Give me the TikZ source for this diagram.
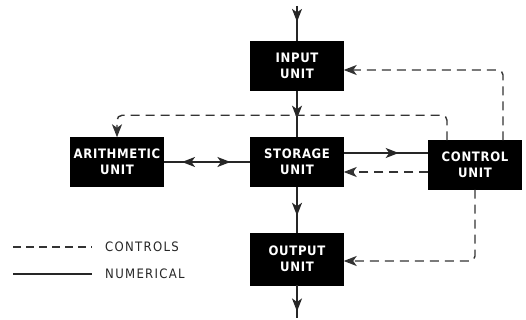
\documentclass[tikz,border=0pt]{standalone}
\usepackage{fontspec}
\newfontfamily\boxfont{DejaVu Sans}[FakeStretch=0.9, LetterSpace=5]
\newfontfamily\keyfont{DejaVu Sans}[FakeStretch=0.9, LetterSpace=10]
\usetikzlibrary{arrows.meta, positioning, calc, decorations.markings}

\begin{document}
\begin{tikzpicture}[x=1pt, y=-1pt,
  >={Stealth[length=13pt, width=10pt, inset=3.5pt]},
  ubox/.style={draw=black, fill=black, text=white, minimum width=93pt, minimum height=49pt, align=center, font=\boxfont\bfseries\fontsize{13}{16.5}\selectfont},
  num/.style={line width=1.5pt, black!85},
  ctrl/.style={line width=1.4pt, black!80, dash pattern=on 9pt off 6pt},
  midtip/.style={postaction={decorate, decoration={markings, mark=at position #1 with {\arrow{>}}}}},
  backtip/.style={postaction={decorate, decoration={markings, mark=at position #1 with {\arrowreversed{>}}}}},
  key/.style={anchor=west, inner sep=0pt, text=black!85, font=\keyfont\fontsize{13}{15}\selectfont}
]
  \useasboundingbox (0,0) rectangle (526,320);
  \node[ubox] (inp) at (297,66) {INPUT\\UNIT};
  \node[ubox] (sto) at (297,162) {STORAGE\\UNIT};
  \node[ubox] (ari) at (117,162) {ARITHMETIC\\UNIT};
  \node[ubox] (ctl) at (475,165) {CONTROL\\UNIT};
  \node[ubox, minimum height=52pt] (out) at (297,259) {OUTPUT\\UNIT};
  \coordinate (entree) at (297,6);
  \coordinate (sortie) at (297,318);
  % numerical paths
  \draw[num, midtip=0.45] (entree) -- (inp);
  \draw[num, midtip=0.6] (inp) -- (sto);
  \draw[num, midtip=0.63] (sto) -- (out);
  \draw[num, midtip=0.8] (out) -- (sortie);
  \draw[num, backtip=0.21, midtip=0.77] (ari) -- (sto);
  \draw[num, midtip=0.65] ([yshift=9pt]sto.east) -- ([yshift=9pt]sto.east -| ctl.west);
  % control paths
  \draw[ctrl, ->] ([yshift=-10pt]sto.east -| ctl.west) -- ([yshift=-10pt]sto.east);
  \draw[ctrl, ->, rounded corners=5pt] ([xshift=28pt]ctl.north) |- ([yshift=-4pt]inp.east);
  \draw[ctrl, ->, rounded corners=5pt] ([xshift=-28pt]ctl.north) |- ([yshift=22pt]ari.north) -- (ari.north);
  \draw[ctrl, ->, rounded corners=5pt] (ctl.south) |- ([yshift=-2pt]out.east);
  % key
  \node[key] (lgc) at (105,247) {CONTROLS};
  \node[key] (lgn) at (105,274) {NUMERICAL};
  \draw[ctrl, dash pattern=on 8pt off 5pt] ([xshift=-92pt]lgc.west) -- ([xshift=-13pt]lgc.west);
  \draw[num] ([xshift=-92pt]lgn.west) -- ([xshift=-13pt]lgn.west);
\end{tikzpicture}
\end{document}
